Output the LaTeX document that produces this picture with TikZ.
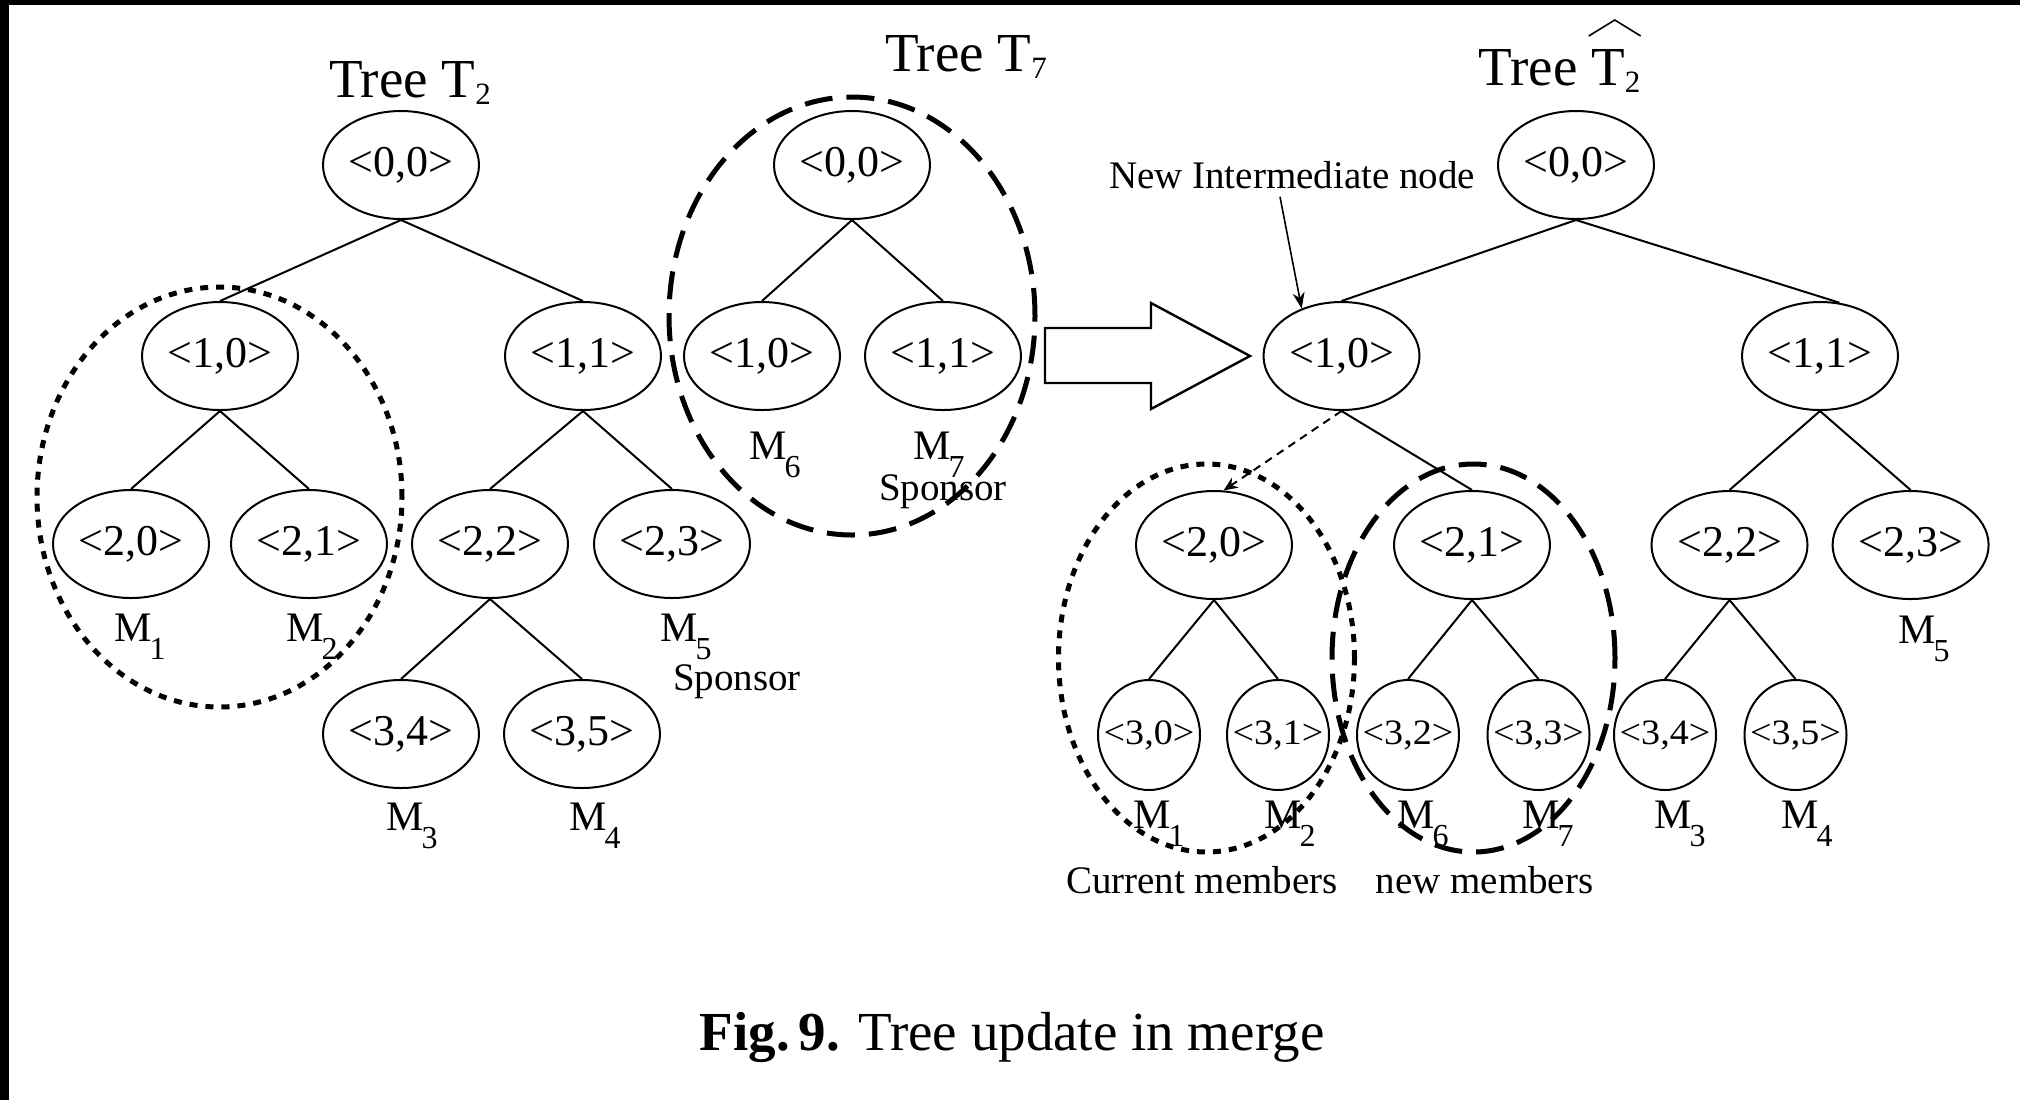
\documentclass[tikz,border=0pt]{standalone}
\usepackage{fontspec}
\setmainfont{Liberation Serif}
\usetikzlibrary{shapes.geometric,arrows.meta,calc}
\newcommand\SubT[1]{\raisebox{-3.5pt}{\fontsize{15.5}{15.5}\selectfont #1}}
\newcommand\MemL[1]{M\kern-1pt\raisebox{-9pt}{\fontsize{16}{16}\selectfont #1}}
\newcommand\SmallTxt[1]{\scalebox{1.12}[1.05]{#1}}
\begin{document}
\begin{tikzpicture}[x=0.5pt,y=-0.5pt,
  bignode/.style={draw, ellipse, line width=1pt, minimum width=78pt, minimum height=54pt, inner sep=0pt, font=\fontsize{22}{22}\selectfont},
  smallnode/.style={draw, ellipse, line width=1pt, minimum width=51pt, minimum height=55pt, inner xsep=-9pt, inner ysep=0pt, font=\fontsize{17}{17}\selectfont},
  edgeline/.style={line width=1pt},
  lbl/.style={anchor=base, inner sep=0pt, font=\fontsize{21}{21}\selectfont},
  note/.style={anchor=base, inner sep=0pt, font=\fontsize{19.5}{19.5}\selectfont},
  title/.style={anchor=base, inner sep=0pt, font=\fontsize{27.5}{27.5}\selectfont},
  dotring/.style={line width=2.5pt, dash pattern=on 4pt off 4pt},
  dashring/.style={line width=2.5pt, dash pattern=on 14pt off 7pt},
]
\useasboundingbox (0,0) rectangle (2020,1100);
\fill[white] (0,0) rectangle (2020,1100);
\fill[black] (0,0) rectangle (2020,5);
\fill[black] (0,0) rectangle (9,1100);

% ---------- Tree T2 ----------
\node[title] (tL) at (410,97) {Tree T\SubT{2}};
\node[bignode] (L00) at (401,165) {<0,0>};
\node[bignode] (L10) at (220,356) {<1,0>};
\node[bignode] (L11) at (583,356) {<1,1>};
\node[bignode] (L20) at (131,544) {<2,0>};
\node[bignode] (L21) at (309,544) {<2,1>};
\node[bignode] (L22) at (490,544) {<2,2>};
\node[bignode] (L23) at (672,544) {<2,3>};
\node[bignode] (L34) at (401,734) {<3,4>};
\node[bignode] (L35) at (582,734) {<3,5>};
\draw[edgeline] (L00.south) -- (L10.north);
\draw[edgeline] (L00.south) -- (L11.north);
\draw[edgeline] (L10.south) -- (L20.north);
\draw[edgeline] (L10.south) -- (L21.north);
\draw[edgeline] (L11.south) -- (L22.north);
\draw[edgeline] (L11.south) -- (L23.north);
\draw[edgeline] (L22.south) -- (L34.north);
\draw[edgeline] (L22.south) -- (L35.north);
\node[lbl] (mL1) at (140,641) {\MemL{1}};
\node[lbl] (mL2) at (312,641) {\MemL{2}};
\node[lbl] (mL5) at (686,641) {\MemL{5}};
\node[lbl] (mL3) at (412,830) {\MemL{3}};
\node[lbl] (mL4) at (595,830) {\MemL{4}};
\node[note] (spL) at (737,690) {Sponsor};
\draw[dotring] (219.5,497) ellipse [x radius=91.25pt, y radius=105pt];

% ---------- Tree T7 ----------
\node[title] (tT) at (966,71) {Tree T\SubT{7}};
\node[bignode] (S00) at (852,165) {<0,0>};
\node[bignode] (S10) at (762,356) {<1,0>};
\node[bignode] (S11) at (943,356) {<1,1>};
\draw[edgeline] (S00.south) -- (S10.north);
\draw[edgeline] (S00.south) -- (S11.north);
\node[lbl] (mS6) at (775,459) {\MemL{6}};
\node[lbl] (mS7) at (939,459) {\MemL{7}};
\node[note] (spT) at (943,500) {Sponsor};
\draw[dashring] (852,316) ellipse [x radius=91.5pt, y radius=109.5pt];

% ---------- block arrow ----------
\draw[line width=1.2pt] (1045,328) -- (1151,328) -- (1151,303) -- (1250,356) -- (1151,409) -- (1151,383) -- (1045,383) -- cycle;

% ---------- Tree T2 hat ----------
\node[title] (tR) at (1559.5,85) {Tree T\SubT{2}};
\draw[line width=0.8pt] ($(tR.base east)+(-52,-49)$) -- ($(tR.base east)+(-26,-65)$) -- ($(tR.base east)+(0,-49)$);
\node[bignode] (R00) at (1576,165) {<0,0>};
\node[bignode] (R10) at (1341.5,356) {<1,0>};
\node[bignode] (R11) at (1820,356) {<1,1>};
\node[bignode] (R20) at (1214,545) {<2,0>};
\node[bignode] (R21) at (1472,545) {<2,1>};
\node[bignode] (R22) at (1729.5,545) {<2,2>};
\node[bignode] (R23) at (1910.6,545) {<2,3>};
\node[smallnode] (R30) at (1149,735) {\SmallTxt{<3,0>}};
\node[smallnode] (R31) at (1278,735) {\SmallTxt{<3,1>}};
\node[smallnode] (R32) at (1408,735) {\SmallTxt{<3,2>}};
\node[smallnode] (R33) at (1538.5,735) {\SmallTxt{<3,3>}};
\node[smallnode] (R34) at (1665,735) {\SmallTxt{<3,4>}};
\node[smallnode] (R35) at (1795.5,735) {\SmallTxt{<3,5>}};
\draw[edgeline] (R00.south) -- (R10.north);
\draw[edgeline] (R00.south) -- (R11.70);
\draw[edgeline, dash pattern=on 4pt off 3pt, -{Stealth[length=7pt,width=6pt]}] (R10.south) -- (R20.80);
\draw[edgeline] (R10.south) -- (R21.north);
\draw[edgeline] (R11.south) -- (R22.north);
\draw[edgeline] (R11.south) -- (R23.north);
\draw[edgeline] (R20.south) -- (R30.north);
\draw[edgeline] (R20.south) -- (R31.north);
\draw[edgeline] (R21.south) -- (R32.north);
\draw[edgeline] (R21.south) -- (R33.north);
\draw[edgeline] (R22.south) -- (R34.north);
\draw[edgeline] (R22.south) -- (R35.north);
\node[lbl] (mR5) at (1924,643) {\MemL{5}};
\node[lbl] (mR1) at (1159,828) {\MemL{1}};
\node[lbl] (mR2) at (1290,828) {\MemL{2}};
\node[lbl] (mR6) at (1423,828) {\MemL{6}};
\node[lbl] (mR7) at (1548,828) {\MemL{7}};
\node[lbl] (mR3) at (1680,828) {\MemL{3}};
\node[lbl] (mR4) at (1807,828) {\MemL{4}};
\node[note] (nin) at (1292,188) {New Intermediate node};
\draw[line width=0.8pt, -{Stealth[length=8pt,width=6pt]}] ($(nin.south)+(-12,8)$) -- (R10.130);
\node[note] (cur) at (1202,893) {Current members};
\node[note] (nwm) at (1484.5,893) {new members};
\draw[dotring] (1206.5,658) ellipse [x radius=74pt, y radius=97pt];
\draw[dashring] (1473.5,658) ellipse [x radius=70.75pt, y radius=97pt];

% ---------- caption ----------
\node[anchor=base, inner sep=0pt, font=\fontsize{27.5}{27.5}\selectfont] (cap) at (1012,1050) {\textbf{Fig.\,9.} Tree update in merge};
\end{tikzpicture}
\end{document}
